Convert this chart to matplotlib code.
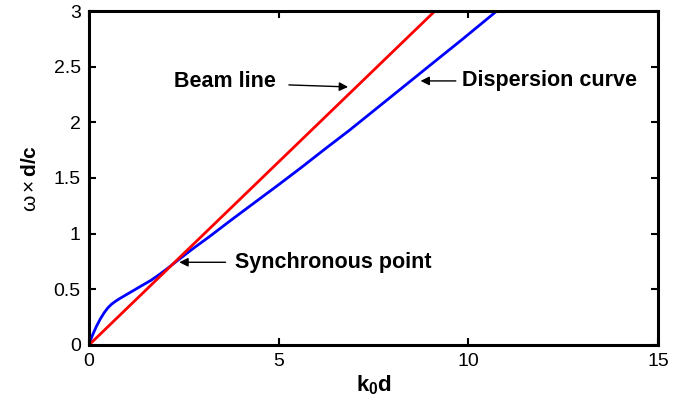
import matplotlib
matplotlib.use('Agg')
import matplotlib.pyplot as plt

plt.rcParams['font.family'] = ['Liberation Sans', 'DejaVu Sans']
plt.rcParams['mathtext.fontset'] = 'custom'
plt.rcParams['mathtext.rm'] = 'Liberation Sans'
plt.rcParams['mathtext.bf'] = 'Liberation Sans:bold'
plt.rcParams['mathtext.it'] = 'Liberation Sans:italic'

# beam line (red) end points
beam_k = [0, 9.12]
beam_w = [0, 3.0]

# dispersion curve (blue)
disp_k = [0, 0.05, 0.1, 0.2, 0.3, 0.4, 0.5, 0.6, 0.7, 0.8, 0.9, 1.0, 1.2, 1.4,
          1.63, 1.85, 2.07, 2.3, 2.7, 3.2, 3.7, 4.29, 5.0, 5.6, 6.2, 6.87, 7.49,
          8.2, 9.0, 9.84, 10.75]
disp_w = [0, 0.05, 0.095, 0.17, 0.235, 0.29, 0.335, 0.368, 0.393, 0.415, 0.435,
          0.455, 0.495, 0.535, 0.58, 0.632, 0.688, 0.75, 0.855, 0.98, 1.11, 1.26,
          1.44, 1.595, 1.755, 1.93, 2.10, 2.295, 2.515, 2.745, 3.0]

xticks = [0, 5, 10, 15]
yticks = [0, 0.5, 1, 1.5, 2, 2.5, 3]

fig = plt.figure(figsize=(6.83, 4.09), dpi=100)
ax = fig.add_axes([0.1303, 0.1565, 0.8331, 0.8166])

ax.plot(disp_k, disp_w, color='#0000ff', lw=2.0)
ax.plot(beam_k, beam_w, color='#ff0000', lw=2.0)

ax.set_xlim(0, 15)
ax.set_ylim(0, 3)
ax.set_xticks(xticks)
ax.set_yticks(yticks)
ax.set_xticklabels([f"{v:g}" for v in xticks])
ax.set_yticklabels([f"{v:g}" for v in yticks])
ax.tick_params(direction='in', length=5, width=1.5, labelsize=14,
               top=True, right=True, pad=6)
for s in ax.spines.values():
    s.set_linewidth(2.2)

ax.set_xlabel(r'$\mathbf{k}_\mathbf{0}\mathbf{d}$', fontsize=16, labelpad=2)
ax.set_ylabel(r'$\mathrm{\omega}\times\mathbf{d/c}$', fontsize=15, labelpad=10)

arr = dict(arrowstyle='-|>', color='black', lw=1.0, mutation_scale=13,
           shrinkA=0, shrinkB=0)
ax.annotate('', xy=(6.83, 2.318), xytext=(5.27, 2.336), arrowprops=arr)
ax.text(2.23, 2.366, 'Beam line', fontsize=15.5, fontweight='bold', ha='left', va='center')
ax.annotate('', xy=(8.74, 2.372), xytext=(9.67, 2.372), arrowprops=arr)
ax.text(9.84, 2.38, 'Dispersion curve', fontsize=15.5, fontweight='bold', ha='left', va='center')
ax.annotate('', xy=(2.38, 0.743), xytext=(3.6, 0.743), arrowprops=arr)
ax.text(3.84, 0.743, 'Synchronous point', fontsize=15.5, fontweight='bold', ha='left', va='center')

fig.savefig('out.png', dpi=100)
